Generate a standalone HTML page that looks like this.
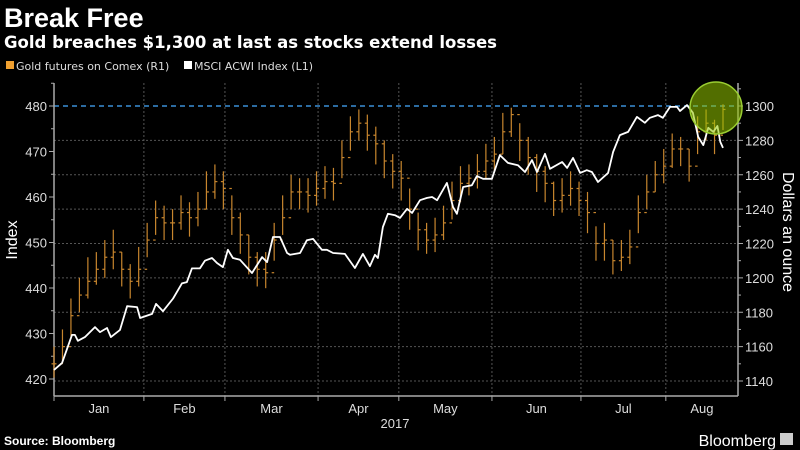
<!DOCTYPE html>
<html><head><meta charset="utf-8"><style>
html,body{margin:0;padding:0;background:#000;width:800px;height:450px;overflow:hidden}
svg{display:block;font-family:"Liberation Sans","DejaVu Sans",sans-serif}
</style></head><body>
<svg id="chart" width="800" height="450" viewBox="0 0 800 450">
<text x="4" y="27" fill="#fff" font-size="27" font-weight="bold">Break Free</text>
<text x="4" y="48" fill="#fff" font-size="16.5" font-weight="bold" font-family="DejaVu Sans">Gold breaches $1,300 at last as stocks extend losses</text>
<g>
<rect x="6" y="61" width="8" height="8" fill="#f0a030"/>
<text x="16" y="70" fill="#ddd" font-size="11" font-family="DejaVu Sans">Gold futures on Comex (R1)</text>
<rect x="184" y="61" width="8" height="8" fill="#fff"/>
<text x="194" y="70" fill="#ddd" font-size="11" font-family="DejaVu Sans">MSCI ACWI Index  (L1)</text>
</g>
<g id="grid"></g><g id="axes"></g><g id="marks"></g>
<text transform="translate(17,240) rotate(-90)" text-anchor="middle" fill="#fff" font-size="16">Index</text>
<text transform="translate(783,232) rotate(90)" text-anchor="middle" fill="#fff" font-size="16">Dollars an ounce</text>
<text x="395" y="428" text-anchor="middle" fill="#ddd" font-size="13">2017</text>
<text x="4" y="445" fill="#fff" font-size="12" font-weight="bold">Source: Bloomberg</text>
<text x="776" y="446" text-anchor="end" fill="#fff" font-size="16">Bloomberg</text>
<rect x="780" y="433" width="13" height="12" fill="#ccc"/>
</svg>
<script>
const monthLabels=["Jan","Feb","Mar","Apr","May","Jun","Jul","Aug"];
const monthDays=[0,30.5,58,89.6,117,148.6,178.8,207.6];
const leftTicks=[420,430,440,450,460,470,480];
const rightTicks=[1140,1160,1180,1200,1220,1240,1260,1280,1300];
const goldClose=[1150,1160,1178,1190,1198,1205,1212,1215,1205,1198,1205,1222,1235,1232,1232,1238,1235,1240,1250,1256,1252,1235,1225,1212,1205,1203,1222,1235,1250,1250,1248,1252,1256,1255,1270,1285,1290,1283,1278,1268,1262,1258,1240,1228,1222,1225,1232,1245,1255,1258,1262,1268,1272,1285,1295,1280,1270,1262,1255,1245,1248,1252,1245,1238,1220,1222,1210,1212,1218,1238,1250,1260,1265,1275,1275,1265,1285,1290,1283,1298];
const goldHigh=[1160,1170,1188,1200,1212,1215,1222,1228,1215,1208,1218,1232,1245,1242,1240,1248,1244,1250,1262,1266,1262,1248,1238,1225,1215,1215,1232,1248,1260,1258,1258,1262,1265,1264,1280,1294,1298,1295,1288,1280,1272,1268,1252,1238,1232,1235,1242,1256,1265,1266,1272,1278,1282,1296,1299,1290,1282,1272,1265,1256,1258,1262,1256,1250,1230,1232,1222,1222,1228,1248,1260,1268,1275,1284,1282,1275,1294,1298,1292,1301];
const goldLow=[1142,1150,1166,1180,1188,1196,1200,1205,1195,1188,1195,1212,1225,1222,1222,1228,1224,1230,1240,1246,1240,1225,1214,1202,1195,1194,1210,1225,1240,1240,1238,1242,1246,1245,1258,1274,1280,1274,1266,1258,1252,1245,1228,1216,1214,1215,1222,1234,1244,1248,1252,1258,1262,1272,1282,1268,1260,1250,1244,1236,1238,1242,1236,1226,1210,1210,1202,1204,1208,1226,1240,1250,1255,1264,1265,1256,1272,1280,1272,1286];
const msciDay=[0,2.7,6.1,7.1,8.1,10.5,13.9,15.6,18,19.3,22.4,24.8,28.2,29.2,33.3,34.6,37,40.4,43.4,45.1,46.8,49.5,51.2,53.6,55.3,57.3,59,60.7,63.1,67.2,70.6,72.3,74.3,76.7,79.1,80.1,83.5,85.8,87.9,90.9,92.6,94.7,98.7,102.1,104.8,107.2,108.9,109.9,111.6,113.3,115.7,117.4,119.8,121.5,124.2,126.6,128.3,130,133.3,135.4,136.7,138.8,141.8,143.5,145.6,148.6,151.3,154,157.4,159.8,162.2,163.9,166.6,168.3,172.4,174.1,176.1,178.5,180.8,182.5,184.6,188,189.7,192,194.8,197.8,200.5,202.2,204.9,206.6,209,211.4,212.4,214.8,216.8,218.6,220.3,222,223.7,225.1,226.1,227];
const msciValue=[422,423.5,429.7,429.7,428.4,429.2,431.4,430.3,431.2,429.2,430.8,436,435.8,433.4,434.3,436.5,434.9,437.7,441,441.3,444.3,444.3,446,446.6,445.5,444.6,448.4,446.6,446.2,443.3,446.8,445.7,451.2,451.2,447.7,447.3,447.7,450.5,450.8,448.4,448.4,447.7,447.5,444.4,447.5,444.8,447.3,446.6,453.4,456.3,456,455.4,457.4,456.5,459.3,459.8,460,459.3,463.1,457.8,456.3,462.2,462.6,464.6,464,464,469.2,467.5,467,465.5,468.1,465.5,469.5,466.2,467.7,466.4,468.6,465.3,465.9,465.5,463.3,465.3,469.9,473.6,474.3,477.6,476.3,477.4,478,477.4,479.8,479.8,478.9,480.2,478.5,473.2,471.4,475.2,474.3,475.6,472.1,470.8];

const NS="http://www.w3.org/2000/svg";
const X0=54,X1=738,DATA_END=723,Y_TOP=83,Y_BOT=396;
const xScale=d=>X0+d*(DATA_END-X0)/227;
const yL=v=>106+(480-v)*4.55;
const yR=v=>106+(1300-v)*275/160;
function mk(tag,attrs,parent){const e=document.createElementNS(NS,tag);for(const k in attrs)e.setAttribute(k,attrs[k]);parent.appendChild(e);return e;}
const grid=document.getElementById('grid'),axes=document.getElementById('axes'),marks=document.getElementById('marks');

rightTicks.forEach(t=>{if(t===1300)return;
 const l=mk('line',{x1:X0,x2:X1,y1:yR(t),y2:yR(t),stroke:'#555','stroke-width':1,'stroke-dasharray':'2,2'},grid);
 
 
});
monthDays.forEach((d,i)=>{if(i===0)return;
 const l=mk('line',{x1:xScale(d),x2:xScale(d),y1:Y_TOP,y2:Y_BOT,stroke:'#555','stroke-width':1,'stroke-dasharray':'2,2'},grid);
 
 
});
const ref=mk('line',{x1:X0,x2:X1,y1:yR(1300),y2:yR(1300),stroke:'#3a8fd8','stroke-width':1.6,'stroke-dasharray':'5,4'},grid);



const la=mk('line',{x1:X0,x2:X0,y1:Y_TOP,y2:Y_BOT,stroke:'#aaa','stroke-width':1.5},axes);


const ra=mk('line',{x1:X1,x2:X1,y1:Y_TOP,y2:Y_BOT,stroke:'#aaa','stroke-width':1.5},axes);


const ba=mk('line',{x1:X0,x2:X1,y1:Y_BOT,y2:Y_BOT,stroke:'#aaa','stroke-width':1.5},axes);



leftTicks.forEach(t=>{
 mk('line',{x1:X0-5,x2:X0,y1:yL(t),y2:yL(t),stroke:'#aaa'},axes);
 mk('line',{x1:X0-3,x2:X0,y1:yL(t+5),y2:yL(t+5),stroke:'#aaa'},axes);
 const tx=mk('text',{x:X0-7,y:yL(t)+5,'text-anchor':'end',fill:'#ddd','font-size':13},axes);
 tx.textContent=t;
 
 
});
rightTicks.forEach(t=>{
 mk('line',{x1:X1,x2:X1+5,y1:yR(t),y2:yR(t),stroke:'#aaa'},axes);
 mk('line',{x1:X1,x2:X1+3,y1:yR(t+10),y2:yR(t+10),stroke:'#aaa'},axes);
 const tx=mk('text',{x:X1+7,y:yR(t)+5,fill:'#ddd','font-size':13},axes);
 tx.textContent=t;
 
 
});
monthDays.forEach((d,i)=>{
 mk('line',{x1:xScale(d),x2:xScale(d),y1:Y_BOT,y2:Y_BOT+5,stroke:'#aaa'},axes);
 const next=i<monthDays.length-1?xScale(monthDays[i+1]):X1;
 const tx=mk('text',{x:(xScale(d)+next)/2,y:413,'text-anchor':'middle',fill:'#ddd','font-size':13},axes);
 tx.textContent=monthLabels[i];
 
 
});

const n=goldClose.length;
goldClose.forEach((c,i)=>{
 const x=xScale(i*227/(n-1));
 const g=mk('g',{stroke:'#c8862e','stroke-width':1.2},marks);
 
 
 mk('line',{x1:x,x2:x,y1:yR(goldHigh[i]),y2:yR(goldLow[i])},g);
 const o=i>0?goldClose[i-1]:c;
 mk('line',{x1:x-2.5,x2:x,y1:yR(o),y2:yR(o)},g);
 mk('line',{x1:x,x2:x+2.5,y1:yR(c),y2:yR(c)},g);
});

const pts=msciValue.map((v,i)=>xScale(msciDay[i]).toFixed(1)+','+yL(v).toFixed(1)).join(' ');
const pl=mk('polyline',{points:pts,fill:'none',stroke:'#fff','stroke-width':1.8,'stroke-linejoin':'round'},marks);



const circ=mk('circle',{cx:716,cy:108,r:26,fill:'rgba(150,200,0,0.55)',stroke:'#9acd32','stroke-width':1.5},marks);


</script>
</body></html>
